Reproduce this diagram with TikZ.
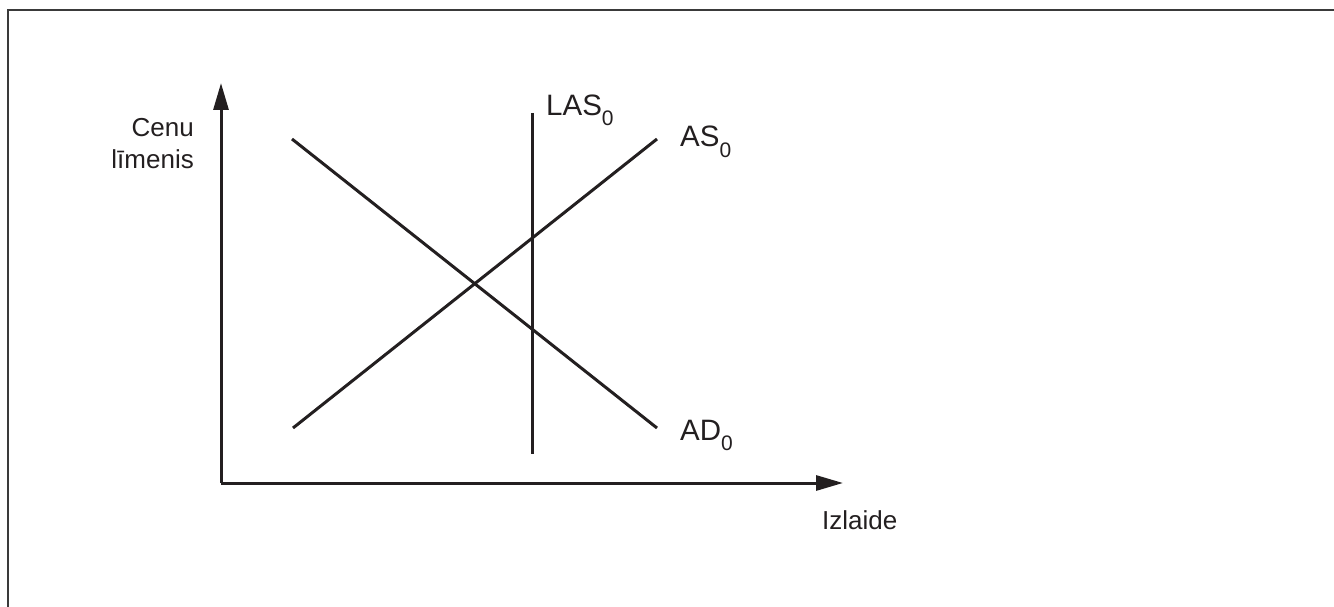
\documentclass[tikz,border=0pt]{standalone}
\usepackage{fontspec}
\setmainfont{Liberation Sans}
\usetikzlibrary{arrows.meta}
\definecolor{ink}{HTML}{231F20}
\definecolor{framec}{HTML}{3A3A3A}
\tikzset{
  axisline/.style={draw=ink, line width=3pt, -{Triangle[length=27pt,width=15pt]}},
  curve/.style={draw=ink, line width=3pt},
  axislabel/.style={inner sep=0pt, text=ink, font=\fontsize{26}{30}\selectfont},
  curvelabel/.style={inner sep=0pt, text=ink, font=\fontsize{29.5}{32}\selectfont},
}
\newcommand{\zsub}{\raisebox{-10pt}{\fontsize{21}{21}\selectfont 0}}
\begin{document}
\begin{tikzpicture}[x=1pt,y=-1pt]
\useasboundingbox (0,0) rectangle (1334,607);
% frame
\draw[framec, line width=2pt] (8,612) -- (8,10) -- (1340,10);
% axes
\coordinate (O) at (221,483);
\coordinate (ytip) at (221,83);
\coordinate (xtip) at (843,483);
\draw[axisline] (O) -- (ytip);
\draw[axisline] (O) -- (xtip);
% curves
\coordinate (ad1) at (292,139);
\coordinate (ad2) at (657,428);
\coordinate (as1) at (293,428);
\coordinate (as2) at (657,139);
\coordinate (las1) at (532,113);
\coordinate (las2) at (532,454);
\draw[curve] (ad1) -- (ad2);
\draw[curve] (as1) -- (as2);
\draw[curve] (las1) -- (las2);
% labels
\node[curvelabel, anchor=base west] (laslab) at (546,116) {LAS\zsub};
\node[curvelabel, anchor=base west] (aslab) at (680,147) {AS\zsub};
\node[curvelabel, anchor=base west] (adlab) at (680,440) {AD\zsub};
\node[axislabel, anchor=base west] (xlab) at (822,529) {Izlaide};
\node[axislabel, anchor=base east] (ylab1) at (194,137) {Cenu};
\node[axislabel, anchor=base east] (ylab2) at (194,168) {līmenis};
\end{tikzpicture}
\end{document}
